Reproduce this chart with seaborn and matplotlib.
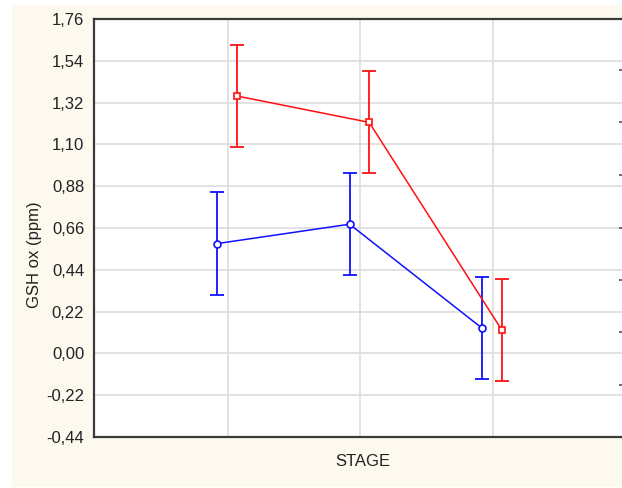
import matplotlib
matplotlib.use("Agg")
import matplotlib.pyplot as plt
from matplotlib.patches import Rectangle
from matplotlib.ticker import FixedLocator, FuncFormatter
import numpy as np
import pandas as pd
import seaborn as sns

# Stage categories and group means with their error half-widths
stages = ["1", "2", "3"]
blue_mean = [0.578, 0.680, 0.133]
blue_err = [0.272, 0.268, 0.268]
red_mean = [1.355, 1.216, 0.125]
red_err = [0.268, 0.268, 0.268]
y_ticks = [-0.44, -0.22, 0.00, 0.22, 0.44, 0.66, 0.88, 1.10, 1.32, 1.54, 1.76]

sns.set_theme(style="white")
plt.rcParams["font.family"] = ["Liberation Sans", "DejaVu Sans"]

W, H = 622, 488
fig = plt.figure(figsize=(W / 100, H / 100), dpi=100)
fig.patch.set_facecolor("white")
fig.patches.append(Rectangle((12 / W, 1 / H), 1, (H - 6) / H, transform=fig.transFigure,
                             facecolor="#fdf9ef", edgecolor="none", zorder=-10))

ax = fig.add_axes([94 / W, (H - 437) / H, 531 / W, 418 / H])
ax.set_facecolor("white")

idx = np.arange(len(stages))
offsets = {"blue": -0.08, "red": 0.068}
df = pd.DataFrame({
    "x": np.concatenate([idx + offsets["blue"], idx + offsets["red"]]),
    "y": blue_mean + red_mean,
    "err": blue_err + red_err,
    "group": ["blue"] * len(stages) + ["red"] * len(stages),
})
palette = {"blue": "#1010ff", "red": "#ff1010"}
markers = {"blue": "o", "red": "s"}

for g, sub in df.groupby("group"):
    sns.lineplot(data=sub, x="x", y="y", color=palette[g], marker=markers[g],
                 markersize=5, markerfacecolor="white", markeredgecolor=palette[g],
                 markeredgewidth=1.2, linewidth=1.1, legend=False, ax=ax, zorder=3)
    ax.errorbar(sub["x"], sub["y"], yerr=sub["err"], fmt="none", ecolor=palette[g],
                elinewidth=1.3, capsize=5, capthick=1.3, zorder=2)

ax.set_xlim(-1.01, 3.0)
ax.set_ylim(-0.44, 1.76)
ax.yaxis.set_major_locator(FixedLocator(y_ticks))
ax.yaxis.set_major_formatter(FuncFormatter(lambda v, p: f"{v:.2f}".replace(".", ",")))
ax.set_xticks(idx)
ax.tick_params(axis="x", direction="in", length=3, width=1, color="#333333",
               labelbottom=False)
ax.tick_params(axis="y", length=0, pad=7, labelsize=12, labelcolor="#222222")
ax.grid(True, color="#dddddd", linewidth=1.2, zorder=0)
ax.set_axisbelow(True)

for side in ["left", "bottom", "top"]:
    ax.spines[side].set_visible(True)
    ax.spines[side].set_color("#3a3a3a")
    ax.spines[side].set_linewidth(1.6)
ax.spines["right"].set_visible(False)

ax.set_xlabel("STAGE", fontsize=12, color="#222222")
ax.xaxis.set_label_coords((362.5 - 94) / 531, -(454 - 437) / 418, transform=ax.transAxes)
ax.set_ylabel("GSH ox (ppm)", fontsize=12, color="#222222")
ax.yaxis.set_label_coords(-(94 - 42) / 531, (437 - 255) / 418)

# Secondary scale ticks on the right edge
ax2 = ax.twinx()
ax2.set_ylim(ax.get_ylim())
ax2.set_yticks([1.492, 1.218, 0.939, 0.66, 0.386, 0.112, -0.166])
ax2.tick_params(axis="y", direction="in", length=4, width=1.2, color="#555555",
                labelright=False)
for s in ax2.spines.values():
    s.set_visible(False)

fig.savefig("out.png", dpi=100, facecolor=fig.get_facecolor())
